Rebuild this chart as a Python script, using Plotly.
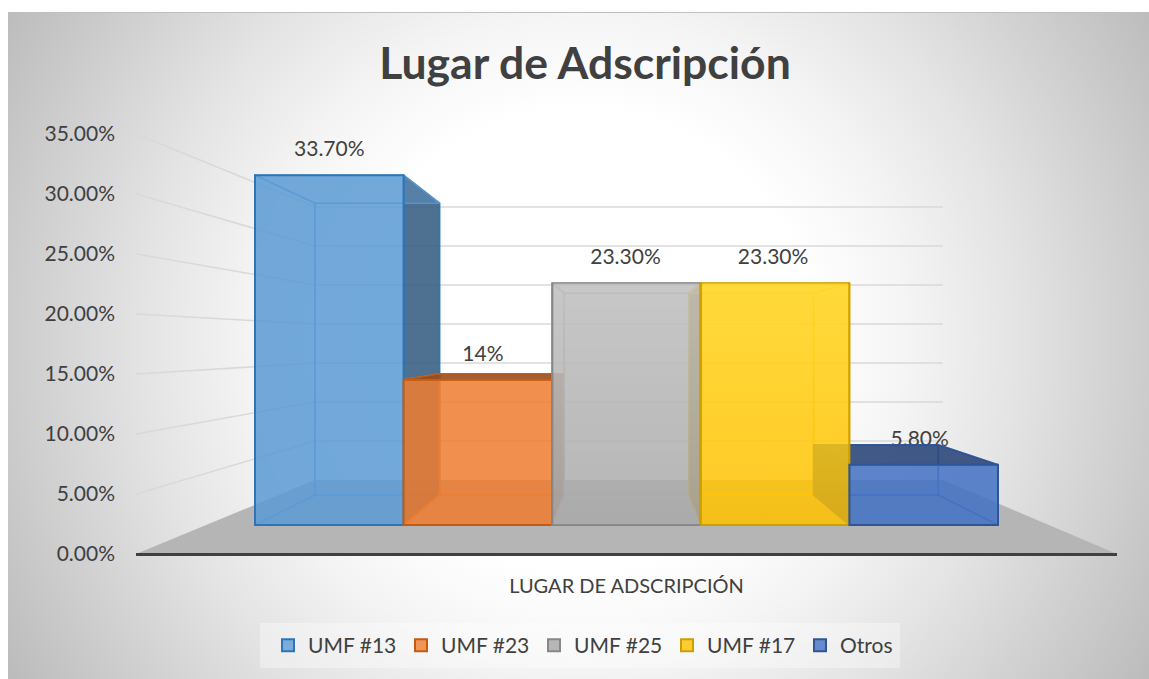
import base64
import plotly.graph_objects as go

# ---- data ----
categories = ["UMF #13", "UMF #23", "UMF #25", "UMF #17", "Otros"]
values = [33.7, 14, 23.3, 23.3, 5.8]
value_labels = ["33.70%", "14%", "23.30%", "23.30%", "5.80%"]
y_ticks = [0, 5, 10, 15, 20, 25, 30, 35]
y_tick_labels = ["0.00%", "5.00%", "10.00%", "15.00%", "20.00%", "25.00%", "30.00%", "35.00%"]
axis_category = "LUGAR DE ADSCRIPCIÓN"
title_text = "Lugar de Adscripción"

# ---- style ----
base_rgb = [(91, 155, 213), (237, 125, 49), (165, 165, 165), (255, 192, 0), (68, 114, 196)]
edge_rgb = [(46, 117, 182), (197, 90, 17), (135, 135, 135), (204, 159, 0), (47, 85, 151)]
dark_side = ["right", "right", None, "left", "left"]   # outward faces seen in shade
dark_top = [False, True, False, False, True]
label_dx = [0, 5, -1, -2, -4]
sheen = {"UMF #17": ("rgba(255,235,80,0.5)", "rgba(255,235,80,0)"),
         "UMF #25": ("rgba(255,255,255,0.28)", "rgba(255,255,255,0.04)")}
FONT = "Lato"
INK = "#404040"
W, H = 1149, 679

# ---- projection of the 3-D chart box onto the page (pixels) ----
X0, STEP = 255.0, 148.6      # left of first column, column width
CX, SHRINK = 627.0, 0.839    # vanishing centre, back/front ratio
F_BASE, F_K = 525.0, 10.38   # front plane: base pixel, pixels per unit
B_BASE, B_K = 495.0, 8.66    # back of columns
W_BASE, W_K = 480.0, 7.8     # back wall
A_BASE, A_K = 554.0, 12.0    # axis plane
AX_L, AX_R = 136.0, 1117.0   # extent of the category axis
W_L, W_R = 315.0, 943.0      # extent of the back wall


def dx(px):
    return (px - X0) / STEP - 0.5


def dy(py):
    return (A_BASE - py) / A_K


def corner(edge, v, back):
    x = X0 + STEP * edge
    if back:
        return (CX + (x - CX) * SHRINK, B_BASE - B_K * v)
    return (x, F_BASE - F_K * v)


def rgba(c, a):
    return f"rgba({c[0]},{c[1]},{c[2]},{a})"


def shade(c, k):
    return tuple(int(round(p * k)) for p in c)


def poly(points, fill, line, lw=1.5):
    xs = [dx(p[0]) for p in points] + [dx(points[0][0])]
    ys = [dy(p[1]) for p in points] + [dy(points[0][1])]
    return go.Scatter(x=xs, y=ys, mode="lines", fill="toself", fillcolor=fill,
                      line=dict(color=line, width=lw), hoverinfo="skip",
                      showlegend=False, xaxis="x", yaxis="y")


fig = go.Figure()

# floor
fig.add_trace(poly([(AX_L, A_BASE), (AX_R, A_BASE), (W_R, W_BASE), (W_L, W_BASE)],
                   "#b5b5b5", "rgba(0,0,0,0)", 0))

# gridlines on side wall and back wall
for t in y_ticks[1:]:
    wy = W_BASE - W_K * t
    ay = A_BASE - A_K * t
    fig.add_trace(go.Scatter(x=[dx(AX_L), dx(W_L), dx(W_R)], y=[dy(ay), dy(wy), dy(wy)],
                             mode="lines", line=dict(color="#d9d9d9", width=1.6),
                             hoverinfo="skip", showlegend=False))

# value labels, under the column faces
label_x = [i + label_dx[i] / STEP for i in range(len(values))]
label_y = [dy(F_BASE - F_K * v - 24) for v in values]
fig.add_trace(go.Scatter(x=label_x, y=label_y, text=value_labels, mode="text",
                         textposition="middle center", cliponaxis=False,
                         textfont=dict(family=FONT, size=21, color=INK),
                         hoverinfo="skip", showlegend=False))

# inner and shaded faces of each column
for i, v in enumerate(values):
    c, e = base_rgb[i], edge_rgb[i]
    lit = rgba(c, 0.3)
    dark = rgba(shade(c, 0.6), 0.85)
    ln = rgba(c, 0.8)
    dl = rgba(e, 0.9)
    bottom = [corner(i, 0, 0), corner(i + 1, 0, 0), corner(i + 1, 0, 1), corner(i, 0, 1)]
    back = [corner(i, 0, 1), corner(i + 1, 0, 1), corner(i + 1, v, 1), corner(i, v, 1)]
    left = [corner(i, 0, 0), corner(i, 0, 1), corner(i, v, 1), corner(i, v, 0)]
    right = [corner(i + 1, 0, 0), corner(i + 1, 0, 1), corner(i + 1, v, 1), corner(i + 1, v, 0)]
    top = [corner(i, v, 0), corner(i + 1, v, 0), corner(i + 1, v, 1), corner(i, v, 1)]
    fig.add_trace(poly(bottom, lit, ln))
    fig.add_trace(poly(back, lit, ln))
    for name, face in (("left", left), ("right", right)):
        if dark_side[i] == name:
            fig.add_trace(poly(face, dark, dl))
        else:
            fig.add_trace(poly(face, lit, ln))
    fig.add_trace(poly(top, dark if dark_top[i] else lit, dl if dark_top[i] else ln))

# front faces: one series per category, on the front-plane value axis
for i, (name, v) in enumerate(zip(categories, values)):
    fig.add_trace(go.Bar(x=[i], y=[v], width=1, name=name, yaxis="y2", xaxis="x",
                         marker=dict(color=rgba(base_rgb[i], 0.8),
                                     line=dict(color=rgba(edge_rgb[i], 1), width=2)),
                         hovertemplate=f"{name}: {value_labels[i]}<extra></extra>"))

# sheen on some front faces, top brighter than bottom
for name, (hi, lo) in sheen.items():
    k = categories.index(name)
    fig.add_trace(go.Scatter(x=[k - 0.49, k + 0.49, k + 0.49, k - 0.49, k - 0.49],
                             y=[0, 0, values[k], values[k], 0], yaxis="y2", xaxis="x",
                             mode="none", fill="toself", hoverinfo="skip", showlegend=False,
                             fillgradient=dict(type="vertical",
                                               colorscale=[[0, lo], [1, hi]])))

svg = """<svg xmlns='http://www.w3.org/2000/svg' width='1141' height='667' preserveAspectRatio='none'>
<defs><radialGradient id='g' gradientUnits='userSpaceOnUse' cx='572' cy='328' r='660'>
<stop offset='0.35' stop-color='#ffffff'/><stop offset='0.49' stop-color='#f5f5f5'/>
<stop offset='0.66' stop-color='#e4e4e4'/><stop offset='1' stop-color='#bcbcbc'/>
</radialGradient></defs><rect width='100%' height='100%' fill='url(#g)'/>
<rect width='100%' height='1' fill='#bfbfbf'/></svg>"""
bg = "data:image/svg+xml;base64," + base64.b64encode(svg.encode()).decode()

fig.update_layout(
    width=W, height=H, margin=dict(l=0, r=0, t=0, b=0, pad=0), autosize=False,
    paper_bgcolor="white", plot_bgcolor="rgba(0,0,0,0)",
    barmode="overlay", hovermode="closest",
    font=dict(family=FONT, color=INK),
    title=dict(text=title_text, x=585 / W, xanchor="center", y=1 - 63 / H, yanchor="middle",
               font=dict(family=FONT, size=44.5, color=INK, weight="bold")),
    images=[dict(source=bg, xref="paper", yref="paper", x=8 / W, y=1 - 12 / H,
                 sizex=(W - 8) / W, sizey=(H - 12) / H, sizing="stretch",
                 xanchor="left", yanchor="top", layer="below")],
    shapes=[dict(type="rect", xref="paper", yref="paper", layer="below",
                 x0=260 / W, x1=900 / W, y0=1 - 668 / H, y1=1 - 623 / H,
                 fillcolor="rgba(255,255,255,0.35)", line=dict(width=0))],
    xaxis=dict(domain=[AX_L / W, AX_R / W], range=[dx(AX_L), dx(AX_R)],
               anchor="free", position=1 - A_BASE / H,
               showgrid=False, zeroline=False, showline=True, linecolor=INK, linewidth=3,
               tickmode="array", tickvals=[2], ticktext=[axis_category],
               ticks="outside", ticklen=13, tickcolor="rgba(0,0,0,0)",
               tickfont=dict(family=FONT, size=20, color=INK), fixedrange=True),
    yaxis=dict(domain=[0, 1], range=[dy(H), dy(0)], anchor="free", position=115 / W,
               showgrid=False, zeroline=False, showline=False,
               tickmode="array", tickvals=y_ticks, ticktext=y_tick_labels,
               ticks="", tickfont=dict(family=FONT, size=21, color=INK), fixedrange=True),
    yaxis2=dict(overlaying="y", domain=[0, 1], visible=False, fixedrange=True,
                range=[(F_BASE - H) / F_K, F_BASE / F_K]),
    legend=dict(orientation="h", x=268 / W, xanchor="left", y=1 - 645.5 / H, yanchor="middle",
                bgcolor="rgba(0,0,0,0)", entrywidth=88, entrywidthmode="pixels",
                font=dict(family=FONT, size=21, color=INK), itemclick=False,
                itemdoubleclick=False, traceorder="normal"),
)

fig.write_html("out.html", config={"displayModeBar": False},
               post_script="document.body.style.margin='0';document.documentElement.style.overflow='hidden';")
